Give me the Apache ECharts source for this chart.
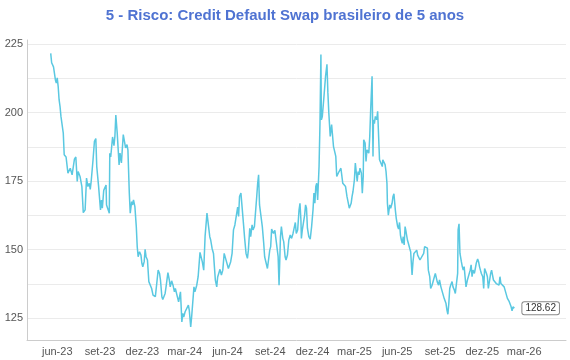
<!DOCTYPE html>
<html>
<head>
<meta charset="utf-8">
<script src="https://cdn.jsdelivr.net/npm/echarts@6/dist/echarts.min.js"></script>
<style>html,body{margin:0;padding:0;background:#fff}#c{width:570px;height:360px}</style>
</head>
<body>
<div id="c"></div>
<script>
const titleText = '5 - Risco: Credit Default Swap brasileiro de 5 anos';
const dates = [
'2023-05-18','2023-05-20','2023-05-24','2023-05-26','2023-05-28','2023-05-30','2023-06-01','2023-06-03','2023-06-05','2023-06-07',
'2023-06-09','2023-06-14','2023-06-16','2023-06-20','2023-06-24','2023-06-29','2023-07-01','2023-07-03','2023-07-06','2023-07-08',
'2023-07-11','2023-07-14','2023-07-16','2023-07-20','2023-07-24','2023-07-27','2023-07-31','2023-08-03','2023-08-06','2023-08-09',
'2023-08-11','2023-08-13','2023-08-17','2023-08-20','2023-08-23','2023-08-25','2023-08-29','2023-09-02','2023-09-04','2023-09-06',
'2023-09-09','2023-09-11','2023-09-14','2023-09-15','2023-09-18','2023-09-21','2023-09-22','2023-09-24','2023-09-28','2023-10-01',
'2023-10-03','2023-10-05','2023-10-08','2023-10-10','2023-10-12','2023-10-14','2023-10-17','2023-10-21','2023-10-23','2023-10-26',
'2023-10-29','2023-10-31','2023-11-03','2023-11-05','2023-11-08','2023-11-10','2023-11-12','2023-11-15','2023-11-18','2023-11-20',
'2023-11-22','2023-11-25','2023-11-28','2023-11-30','2023-12-02','2023-12-05','2023-12-07','2023-12-09','2023-12-12','2023-12-15',
'2023-12-18','2023-12-21','2023-12-24','2023-12-29','2024-01-02','2024-01-04','2024-01-07','2024-01-09','2024-01-12','2024-01-14',
'2024-01-16','2024-01-19','2024-01-21','2024-01-23','2024-01-25','2024-01-28','2024-01-30','2024-02-02','2024-02-05','2024-02-08',
'2024-02-10','2024-02-13','2024-02-17','2024-02-19','2024-02-21','2024-02-24','2024-02-26','2024-02-28','2024-03-02','2024-03-05',
'2024-03-09','2024-03-11','2024-03-14','2024-03-16','2024-03-18','2024-03-21','2024-03-23','2024-03-25','2024-03-27','2024-03-30',
'2024-04-03','2024-04-08','2024-04-11','2024-04-14','2024-04-18','2024-04-21','2024-04-24','2024-04-26','2024-04-29','2024-05-02',
'2024-05-04','2024-05-06','2024-05-09','2024-05-11','2024-05-14','2024-05-16','2024-05-19','2024-05-22','2024-05-25','2024-05-28',
'2024-05-31','2024-06-03','2024-06-05','2024-06-08','2024-06-11','2024-06-14','2024-06-17','2024-06-20','2024-06-23','2024-06-25',
'2024-06-27','2024-06-30','2024-07-03','2024-07-06','2024-07-08','2024-07-11','2024-07-14','2024-07-16','2024-07-19','2024-07-21',
'2024-07-24','2024-07-26','2024-07-29','2024-07-31','2024-08-03','2024-08-05','2024-08-07','2024-08-09','2024-08-12','2024-08-15',
'2024-08-18','2024-08-20','2024-08-23','2024-08-26','2024-08-28','2024-08-31','2024-09-02','2024-09-04','2024-09-06','2024-09-08',
'2024-09-11','2024-09-14','2024-09-16','2024-09-18','2024-09-20','2024-09-23','2024-09-25','2024-09-28','2024-09-30','2024-10-03',
'2024-10-05','2024-10-08','2024-10-11','2024-10-14','2024-10-17','2024-10-20','2024-10-23','2024-10-25','2024-10-27','2024-10-30',
'2024-11-02','2024-11-04','2024-11-06','2024-11-07','2024-11-09','2024-11-12','2024-11-14','2024-11-16','2024-11-18','2024-11-20',
'2024-11-23','2024-11-26','2024-11-29','2024-12-02','2024-12-04','2024-12-06','2024-12-08','2024-12-10','2024-12-12','2024-12-15',
'2024-12-17','2024-12-19','2024-12-20','2024-12-22','2024-12-25','2024-12-27','2024-12-29','2025-01-01','2025-01-03','2025-01-05',
'2025-01-08','2025-01-11','2025-01-13','2025-01-15','2025-01-18','2025-01-20','2025-01-22','2025-01-24','2025-01-27','2025-01-29',
'2025-01-31','2025-02-02','2025-02-04','2025-02-07','2025-02-10','2025-02-13','2025-02-16','2025-02-18','2025-02-20','2025-02-22',
'2025-02-24','2025-02-26','2025-03-01','2025-03-03','2025-03-05','2025-03-07','2025-03-09','2025-03-11','2025-03-13','2025-03-16',
'2025-03-18','2025-03-20','2025-03-21','2025-03-24','2025-03-26','2025-03-28','2025-03-30','2025-04-01','2025-04-03','2025-04-05',
'2025-04-08','2025-04-10','2025-04-11','2025-04-13','2025-04-15','2025-04-18','2025-04-20','2025-04-22','2025-04-24','2025-04-26',
'2025-04-28','2025-04-30','2025-05-01','2025-05-04','2025-05-06','2025-05-08','2025-05-10','2025-05-11','2025-05-13','2025-05-16',
'2025-05-18','2025-05-21','2025-05-23','2025-05-25','2025-05-28','2025-05-30','2025-06-02','2025-06-04','2025-06-06','2025-06-08',
'2025-06-10','2025-06-12','2025-06-14','2025-06-16','2025-06-18','2025-06-20','2025-06-23','2025-06-25','2025-06-28','2025-06-30',
'2025-07-03','2025-07-05','2025-07-07','2025-07-10','2025-07-13','2025-07-15','2025-07-18','2025-07-20','2025-07-24','2025-07-28',
'2025-07-30','2025-08-02','2025-08-05','2025-08-07','2025-08-10','2025-08-12','2025-08-15','2025-08-17','2025-08-20','2025-08-22',
'2025-08-24','2025-08-26','2025-08-29','2025-08-31','2025-09-03','2025-09-05','2025-09-07','2025-09-10','2025-09-12','2025-09-14',
'2025-09-16','2025-09-18','2025-09-20','2025-09-22','2025-09-24','2025-09-27','2025-09-29','2025-10-02','2025-10-04','2025-10-06',
'2025-10-09','2025-10-10','2025-10-12','2025-10-14','2025-10-17','2025-10-19','2025-10-21','2025-10-23','2025-10-25','2025-10-27',
'2025-10-30','2025-11-01','2025-11-03','2025-11-05','2025-11-07','2025-11-09','2025-11-11','2025-11-14','2025-11-16','2025-11-18',
'2025-11-21','2025-11-23','2025-11-25','2025-11-27','2025-11-29','2025-12-02','2025-12-04','2025-12-06','2025-12-08','2025-12-10',
'2025-12-12','2025-12-14','2025-12-17','2025-12-19','2025-12-21','2025-12-23','2025-12-25','2025-12-28','2025-12-31','2026-01-03',
'2026-01-06','2026-01-08','2026-01-10','2026-01-12','2026-01-14','2026-01-17','2026-01-19','2026-01-21','2026-01-24','2026-01-26',
'2026-01-28','2026-01-30','2026-02-01','2026-02-03','2026-02-05','2026-02-08'
];
const cdsValues = [
221.6,218.2,216.7,216.0,212.0,210.8,212.7,209.6,204.7,202.3,
198.6,192.5,184.6,183.8,177.9,179.7,180.1,177.3,176.7,183.0,
183.8,174.9,178.5,176.7,173.0,163.5,164.5,176.1,173.0,174.2,
172.0,174.9,182.8,189.5,190.5,180.3,173.0,164.5,168.1,165.1,
171.6,171.2,173.6,166.3,165.7,163.3,185.2,183.8,191.1,187.9,
191.3,199.1,192.5,192.3,180.9,185.2,181.6,192.0,191.3,187.1,
188.3,186.4,170.6,163.3,167.5,166.3,168.1,165.7,158.4,151.1,
147.4,149.2,148.0,145.0,143.7,145.6,150.1,147.4,146.2,138.3,
137.6,135.8,133.4,132.8,133.0,142.5,141.3,138.9,132.8,131.8,
131.6,134.0,136.4,135.8,141.6,138.9,136.4,138.6,137.0,134.6,
135.8,136.4,130.9,130.9,134.6,123.6,126.7,125.4,127.3,127.6,
129.7,127.8,121.8,125.4,125.7,136.4,134.6,134.9,137.0,140.1,
149.0,145.5,142.5,155.0,163.3,163.0,154.7,153.5,150.4,148.6,
143.7,138.9,136.4,140.0,139.8,142.8,140.7,142.5,148.6,146.8,
146.8,143.1,142.5,145.6,148.6,157.2,159.0,159.6,165.5,162.1,
169.4,170.6,170.4,158.4,154.1,148.6,146.8,149.8,157.8,154.7,
159.0,157.2,158.4,158.4,169.4,174.2,177.3,166.3,165.7,158.4,
152.3,147.4,148.0,143.1,143.1,149.8,151.1,157.5,157.2,155.9,
157.0,152.9,152.3,147.4,137.0,154.7,158.4,154.1,152.9,147.4,
146.2,148.0,153.5,155.3,154.1,155.9,156.6,159.9,155.9,157.2,
164.5,166.9,160.8,154.1,157.2,157.2,162.6,166.3,165.1,157.8,
154.7,153.8,158.4,164.5,170.6,166.9,173.0,174.2,168.1,180.3,
196.2,221.2,197.4,198.6,204.7,205.0,213.3,217.6,207.2,199.9,
191.3,195.6,195.6,187.7,187.7,184.0,176.7,176.7,178.5,177.9,
179.7,179.7,174.2,173.6,173.0,169.4,166.9,165.1,164.5,166.9,
169.4,171.2,175.5,181.6,182.2,174.9,178.5,177.3,179.7,177.9,
170.6,176.7,190.1,188.9,182.2,186.4,187.0,185.2,191.3,201.1,
213.3,184.0,197.4,196.0,198.6,197.4,200.5,201.1,182.8,183.4,
182.2,180.3,182.8,182.2,181.0,178.5,174.2,166.9,162.6,166.3,
165.1,166.9,169.4,170.4,164.5,161.4,158.4,157.5,159.9,155.3,
153.5,152.3,154.7,151.7,158.4,156.6,153.5,152.3,150.4,149.2,
140.7,145.6,148.6,148.6,149.8,148.0,147.6,146.2,146.8,148.6,
151.1,151.7,150.5,142.5,140.1,135.8,137.0,136.4,140.1,141.3,
140.7,138.3,137.0,138.9,136.4,137.0,136.4,132.2,131.6,130.3,
127.9,126.4,130.3,135.8,137.0,138.3,136.4,135.2,134.0,133.4,
141.3,157.2,159.4,148.6,145.6,143.8,142.5,143.8,140.1,136.4,
138.9,138.9,139.1,142.5,144.4,140.1,142.5,141.3,143.1,145.0,
146.6,145.6,143.8,142.5,141.3,140.1,135.8,143.1,142.5,141.3,
140.1,135.8,135.2,141.3,142.5,140.7,138.9,138.3,137.6,137.6,
137.0,140.1,137.6,138.3,137.0,136.4,137.0,136.7,132.2,131.6,
131.0,130.3,129.1,127.6,129.1,128.62
];
const xLabelDates = ['2023-06-01','2023-09-01','2023-12-01','2024-03-01','2024-06-01','2024-09-01','2024-12-01','2025-03-01','2025-06-01','2025-09-01','2025-12-01','2026-03-01'];
const xRange = ['2023-03-28', '2026-05-30'];
const yLabelValues = [125, 150, 175, 200, 225];
const yGridValues = [125, 137.5, 150, 162.5, 175, 187.5, 200, 212.5, 225];
const monthNames = ['jan','fev','mar','abr','mai','jun','jul','ago','set','out','nov','dez'];

function ts(s) { const p = s.split('-').map(Number); return new Date(p[0], p[1] - 1, p[2]).getTime(); }
const seriesData = dates.map((d, i) => [ts(d), cdsValues[i]]);
const font = 'Liberation Sans, Arial, sans-serif';
const chart = echarts.init(document.getElementById('c'));
chart.setOption({
  animation: false,
  backgroundColor: '#fff',
  title: {
    text: titleText, left: 'center', top: 3,
    textStyle: {color: '#4f73d2', fontSize: 15, fontWeight: 'bold', fontFamily: font}
  },
  grid: {left: 27, right: 4, top: 40, bottom: 20, containLabel: false},
  xAxis: {
    type: 'value', min: ts(xRange[0]), max: ts(xRange[1]),
    axisLine: {show: true, lineStyle: {color: '#cccccc', width: 1}},
    axisTick: {show: false, customValues: xLabelDates.map(ts)},
    splitLine: {show: false},
    axisLabel: {
      customValues: xLabelDates.map(ts), hideOverlap: false, showMinLabel: true, showMaxLabel: true,
      color: '#555', fontSize: 11, fontFamily: font, margin: 6,
      formatter: v => { const d = new Date(v); return monthNames[d.getMonth()] + '-' + String(d.getFullYear()).slice(2); }
    }
  },
  yAxis: {
    type: 'value', min: 117, max: 226.5,
    axisLine: {show: true, lineStyle: {color: '#cccccc', width: 1}},
    axisTick: {show: false, customValues: yGridValues},
    splitLine: {show: true, customValues: yGridValues, lineStyle: {color: '#ebebeb', width: 1}},
    axisLabel: {customValues: yLabelValues, color: '#555', fontSize: 11, fontFamily: font, margin: 4}
  },
  series: [{
    type: 'line', data: seriesData, showSymbol: false, symbol: 'none',
    lineStyle: {color: '#5ac8e1', width: 1.5},
    endLabel: {
      show: true, distance: 8,
      formatter: p => p.value[1].toFixed(2),
      color: '#333', fontSize: 10, fontFamily: font,
      backgroundColor: '#fff', borderColor: '#888', borderWidth: 1, borderRadius: 2, padding: [1, 3]
    }
  }]
});
</script>
</body>
</html>
